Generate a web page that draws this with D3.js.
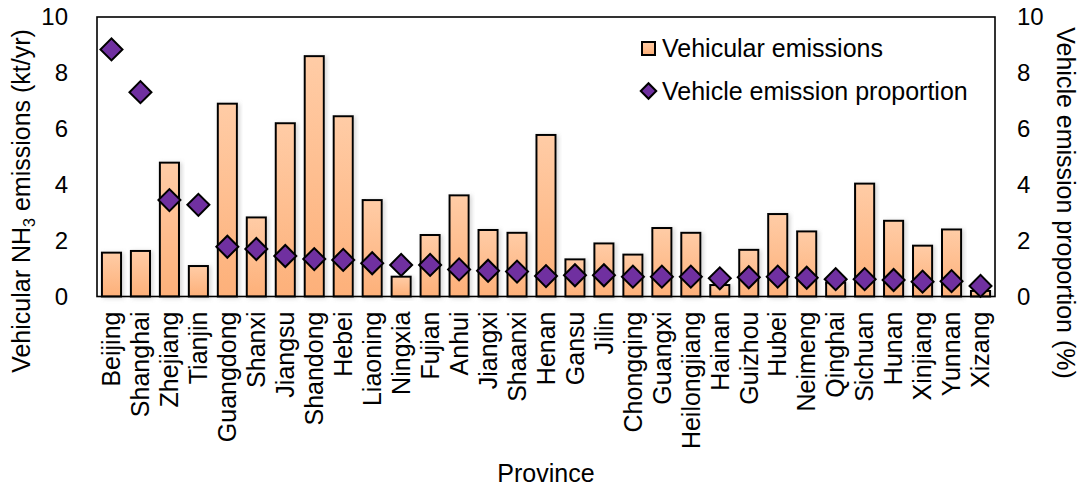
<!DOCTYPE html>
<html>
<head>
<meta charset="utf-8">
<script src="https://cdn.jsdelivr.net/npm/d3@7"></script>
<style>
  html, body { margin: 0; padding: 0; background: #fff; }
  svg { display: block; }
  text { font-family: "Liberation Sans", Arial, sans-serif; fill: #000; }
</style>
</head>
<body>
<svg id="chart" width="1084" height="490"></svg>
<script>
const provinces = ["Beijing","Shanghai","Zhejiang","Tianjin","Guangdong","Shanxi","Jiangsu","Shandong","Hebei","Liaoning","Ningxia","Fujian","Anhui","Jiangxi","Shaanxi","Henan","Gansu","Jilin","Chongqing","Guangxi","Heilongjiang","Hainan","Guizhou","Hubei","Neimeng","Qinghai","Sichuan","Hunan","Xinjiang","Yunnan","Xizang"];
const vehicularEmissions = [1.57,1.63,4.79,1.09,6.90,2.83,6.20,8.60,6.45,3.45,0.71,2.20,3.62,2.38,2.28,5.78,1.33,1.90,1.50,2.45,2.28,0.41,1.67,2.95,2.33,0.50,4.04,2.71,1.82,2.40,0.20];
const emissionProportion = [8.84,7.31,3.45,3.28,1.78,1.70,1.45,1.34,1.31,1.19,1.13,1.13,0.97,0.92,0.89,0.73,0.76,0.76,0.71,0.71,0.71,0.65,0.69,0.71,0.67,0.62,0.62,0.59,0.53,0.55,0.38];
const leftTicks = [0,2,4,6,8,10];
const rightTicks = [0,2,4,6,8,10];
const legendLabels = ["Vehicular emissions","Vehicle emission proportion"];

const svg = d3.select("#chart");
const plot = {left: 97, right: 995, top: 17, bottom: 296.5};

const defs = svg.append("defs");
const grad = defs.append("linearGradient").attr("id","barGrad")
  .attr("x1",0).attr("y1",0).attr("x2",0).attr("y2",1);
grad.append("stop").attr("offset","0%").attr("stop-color","#FFCCA6");
grad.append("stop").attr("offset","100%").attr("stop-color","#FDB079");
const shadow = defs.append("filter").attr("id","shadow")
  .attr("x","-30%").attr("y","-10%").attr("width","160%").attr("height","130%");
shadow.append("feDropShadow").attr("dx",2).attr("dy",1).attr("stdDeviation",2.2)
  .attr("flood-color","#888").attr("flood-opacity",0.35);

const x = d3.scaleBand().domain(provinces).range([plot.left, plot.right])
  .paddingInner(0.34).paddingOuter(0.17);
const yL = d3.scaleLinear().domain([0,10]).range([plot.bottom, plot.top]);
const yR = d3.scaleLinear().domain([0,10]).range([plot.bottom, plot.top]);

// bars
svg.append("g").selectAll("rect").data(provinces).join("rect")
  .attr("x", d => x(d))
  .attr("y", (d,i) => yL(vehicularEmissions[i]))
  .attr("width", x.bandwidth())
  .attr("height", (d,i) => yL(0) - yL(vehicularEmissions[i]))
  .attr("fill","url(#barGrad)")
  .attr("stroke","#000").attr("stroke-width",2)
  .attr("filter","url(#shadow)");

// frame
svg.append("rect").attr("x",plot.left).attr("y",plot.top)
  .attr("width",plot.right-plot.left).attr("height",plot.bottom-plot.top)
  .attr("fill","none").attr("stroke","#000").attr("stroke-width",1.6);

// diamonds
const diamond = d3.symbol().type(d3.symbolSquare).size(242);
svg.append("g").selectAll("path").data(provinces).join("path")
  .attr("d", diamond)
  .attr("transform", (d,i) => `translate(${x(d)+x.bandwidth()/2},${yR(emissionProportion[i])}) rotate(45)`)
  .attr("fill","#7030A0").attr("stroke","#000").attr("stroke-width",2);

// axes
const axL = d3.axisLeft(yL).tickValues(leftTicks).tickSize(0).tickPadding(29).tickFormat(d3.format("d"));
const gL = svg.append("g").attr("transform",`translate(${plot.left},0)`).call(axL);
gL.select(".domain").remove();
gL.selectAll("text").attr("font-size",24).attr("font-family","Liberation Sans, Arial, sans-serif");

const axR = d3.axisRight(yR).tickValues(rightTicks).tickSize(0).tickPadding(22).tickFormat(d3.format("d"));
const gR = svg.append("g").attr("transform",`translate(${plot.right},0)`).call(axR);
gR.select(".domain").remove();
gR.selectAll("text").attr("font-size",24).attr("font-family","Liberation Sans, Arial, sans-serif");

const axB = d3.axisBottom(x).tickSize(0).tickPadding(0);
const gB = svg.append("g").attr("transform",`translate(0,${plot.bottom})`).call(axB);
gB.select(".domain").remove();
gB.selectAll("text")
  .attr("font-size",25).attr("font-family","Liberation Sans, Arial, sans-serif")
  .attr("text-anchor","end")
  .attr("transform","rotate(-90)")
  .attr("x",-15).attr("y",0).attr("dy","0.35em");

// axis titles
const lt = svg.append("text").attr("font-size",25).attr("text-anchor","middle")
  .attr("transform","translate(30,201) rotate(-90)");
lt.append("tspan").text("Vehicular NH");
lt.append("tspan").attr("font-size",16).attr("dy",5).text("3");
lt.append("tspan").attr("dy",-5).text(" emissions (kt/yr)");

svg.append("text").attr("font-size",25).attr("text-anchor","middle")
  .attr("transform","translate(1057,203) rotate(90)")
  .text("Vehicle emission proportion (%)");

svg.append("text").attr("font-size",25).attr("text-anchor","middle")
  .attr("x",(plot.left+plot.right)/2).attr("y",482).text("Province");

// legend
const lg = svg.append("g");
lg.append("rect").attr("x",642).attr("y",42).attr("width",13).attr("height",13)
  .attr("fill","url(#barGrad)").attr("stroke","#000").attr("stroke-width",2);
lg.append("path").attr("d", d3.symbol().type(d3.symbolSquare).size(120))
  .attr("transform","translate(648.5,91) rotate(45)")
  .attr("fill","#7030A0").attr("stroke","#000").attr("stroke-width",2);
lg.selectAll("text.lgl").data(legendLabels).join("text").attr("class","lgl")
  .attr("x",662).attr("y",(d,i)=>57 + i*43).attr("font-size",25).text(d=>d);
</script>
</body>
</html>
